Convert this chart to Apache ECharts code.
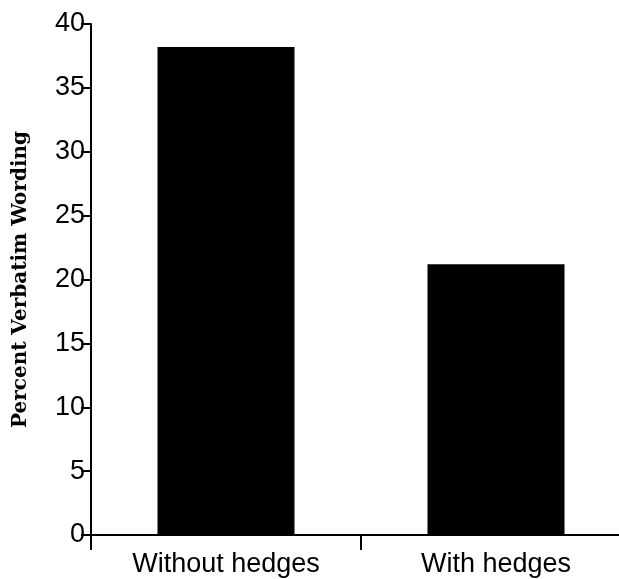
<!DOCTYPE html>
<html>
<head>
<meta charset="utf-8">
<script src="https://cdn.jsdelivr.net/npm/echarts@6/dist/echarts.min.js"></script>
<style>html,body{margin:0;padding:0;background:#fff;overflow:hidden}#c{width:631px;height:579px}</style>
</head>
<body>
<div id="c"></div>
<script>
var categories = ['Without hedges', 'With hedges'];
var values = [38.2, 21.2];
var yTicks = [0, 5, 10, 15, 20, 25, 30, 35, 40];

var chart = echarts.init(document.getElementById('c'), null, {renderer: 'canvas'});
chart.setOption({
  animation: false,
  backgroundColor: '#fff',
  grid: {left: 91, right: 0, top: 24, bottom: 44, containLabel: false},
  xAxis: {
    type: 'category',
    data: categories,
    boundaryGap: true,
    axisLine: {lineStyle: {color: '#000', width: 2}},
    axisTick: {show: true, length: 15, lineStyle: {color: '#000', width: 2}},
    axisLabel: {color: '#000', fontFamily: 'Liberation Sans', fontSize: 27, margin: 16}
  },
  yAxis: {
    type: 'value',
    min: yTicks[0],
    max: yTicks[yTicks.length - 1],
    interval: 5,
    name: 'Percent Verbatim Wording',
    nameLocation: 'middle',
    nameGap: 60,
    nameTextStyle: {color: '#000', fontFamily: 'DejaVu Serif', fontWeight: 'bold', fontSize: 20},
    axisLine: {show: true, lineStyle: {color: '#000', width: 2}},
    axisTick: {show: true, length: 10, lineStyle: {color: '#000', width: 2}},
    splitLine: {show: false},
    axisLabel: {color: '#000', fontFamily: 'Liberation Sans', fontSize: 27, margin: 6}
  },
  series: [{
    type: 'bar',
    data: values,
    barWidth: 137,
    itemStyle: {color: '#000'}
  }]
});
</script>
</body>
</html>
